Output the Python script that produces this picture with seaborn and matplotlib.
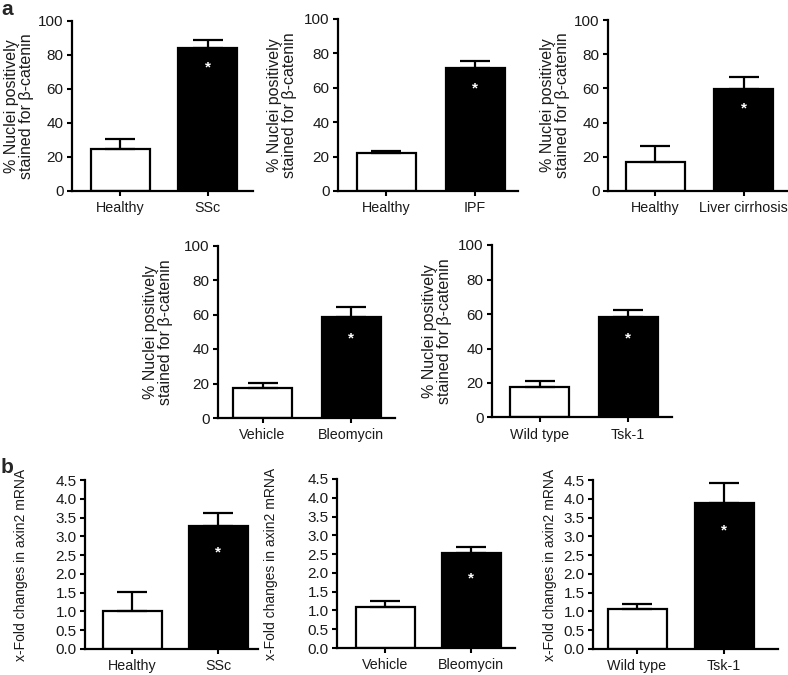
import matplotlib
matplotlib.use("Agg")
import matplotlib.pyplot as plt
import seaborn as sns
import numpy as np

# ---------------- data ----------------
cats_a1 = ["Healthy", "SSc"]
vals_a1 = [24.6, 83.7]
errs_a1 = [5.7, 4.9]

cats_a2 = ["Healthy", "IPF"]
vals_a2 = [21.9, 71.3]
errs_a2 = [1.5, 4.5]

cats_a3 = ["Healthy", "Liver cirrhosis"]
vals_a3 = [17.1, 59.5]
errs_a3 = [9.2, 7.3]

cats_a4 = ["Vehicle", "Bleomycin"]
vals_a4 = [17.6, 58.7]
errs_a4 = [2.5, 5.8]

cats_a5 = ["Wild type", "Tsk-1"]
vals_a5 = [17.5, 58.1]
errs_a5 = [3.8, 4.2]

cats_b1 = ["Healthy", "SSc"]
vals_b1 = [1.02, 3.27]
errs_b1 = [0.50, 0.36]

cats_b2 = ["Vehicle", "Bleomycin"]
vals_b2 = [1.09, 2.52]
errs_b2 = [0.17, 0.18]

cats_b3 = ["Wild type", "Tsk-1"]
vals_b3 = [1.06, 3.90]
errs_b3 = [0.13, 0.51]

ylabel_a = "% Nuclei positively\nstained for \u03b2-catenin"
ylabel_b = "x-Fold changes in axin2 mRNA"
yticks_a = [0, 20, 40, 60, 80, 100]
yticks_b = [0.0, 0.5, 1.0, 1.5, 2.0, 2.5, 3.0, 3.5, 4.0, 4.5]

# ---------------- style ----------------
sns.set_style("ticks")
plt.rcParams["font.family"] = ["Liberation Sans", "DejaVu Sans"]

W, H = 788, 675
fig = plt.figure(figsize=(W / 100, H / 100), dpi=100)

# geometry in pixels: y-axis x, bar centre 1, bar centre 2, right end, top, bottom, label right offset
def panel(cats, vals, errs, x0, c1, c2, xr, top, bot, ymax, yticks, ylabel,
          lab_off, ylab_fs, star_off, fmt):
    ax = fig.add_axes([x0 / W, 1 - bot / H, (xr - x0) / W, (bot - top) / H])
    unit = c2 - c1
    width = 59 / unit
    sns.barplot(x=cats, y=vals, hue=cats, order=cats, hue_order=cats,
                palette=["white", "black"], edgecolor="black", linewidth=1.6,
                width=width, saturation=1, errorbar=None, legend=False, ax=ax)
    ax.errorbar([0, 1], vals, yerr=[[0, 0], errs], fmt="none", ecolor="black",
                elinewidth=1.6, capsize=11, capthick=1.6, zorder=1)
    ax.set_xlim(-(c1 - x0) / unit, 1 + (xr - c2) / unit)
    ax.set_ylim(0, ymax)
    ax.set_yticks(yticks)
    ax.set_yticklabels([fmt.format(t) for t in yticks])
    ax.set_xticks([0, 1])
    ax.set_xticklabels(cats)
    ax.tick_params(axis="both", width=1.5, length=3.5, pad=2.5,
                   color="black", labelcolor="#1a1a1a")
    ax.tick_params(axis="y", labelsize=11)
    ax.tick_params(axis="x", labelsize=10.3, pad=4)
    for s in ["top", "right"]:
        ax.spines[s].set_visible(False)
    for s in ["left", "bottom"]:
        ax.spines[s].set_linewidth(1.6)
        ax.spines[s].set_color("black")
    ax.set_xlabel("")
    ax.set_ylabel(ylabel, fontsize=ylab_fs, linespacing=1.0, color="#1a1a1a")
    ax.yaxis.set_label_coords(lab_off / (xr - x0), 0.5)
    ax.text(1, vals[1] - star_off, "*", color="white", ha="center", va="center",
            fontsize=11, fontweight="bold")
    return ax

panel(cats_a1, vals_a1, errs_a1, 72, 120, 207.5, 253, 20.5, 191, 100, yticks_a,
      ylabel_a, -38, 11.5, 11.5, "{:.0f}")
panel(cats_a2, vals_a2, errs_a2, 338, 386, 475, 518, 19, 191, 100, yticks_a,
      ylabel_a, -41, 11.5, 11.5, "{:.0f}")
panel(cats_a3, vals_a3, errs_a3, 608, 655, 743.5, 787, 20, 191, 100, yticks_a,
      ylabel_a, -38, 11.5, 11.5, "{:.0f}")
panel(cats_a4, vals_a4, errs_a4, 218, 262.5, 351, 395, 245.5, 418, 100, yticks_a,
      ylabel_a, -45, 11.5, 12.5, "{:.0f}")
panel(cats_a5, vals_a5, errs_a5, 492, 539.5, 628, 672, 245, 417.5, 100, yticks_a,
      ylabel_a, -40, 11.5, 12.5, "{:.0f}")
panel(cats_b1, vals_b1, errs_b1, 85, 132, 218, 258, 480, 649, 4.5, yticks_b,
      ylabel_b, -57, 10, 0.7, "{:.1f}")
panel(cats_b2, vals_b2, errs_b2, 337, 385, 471, 515, 479, 648, 4.5, yticks_b,
      ylabel_b, -59, 10, 0.66, "{:.1f}")
panel(cats_b3, vals_b3, errs_b3, 593, 637, 724, 778, 480, 649, 4.5, yticks_b,
      ylabel_b, -36, 10, 0.75, "{:.1f}")

fig.text(1 / W, 1 - 0 / H, "a", fontsize=15, fontweight="bold", va="top", ha="left")
fig.text(1 / W, 1 - 458 / H, "b", fontsize=15, fontweight="bold", va="top", ha="left")

fig.savefig("out.png", dpi=100)
